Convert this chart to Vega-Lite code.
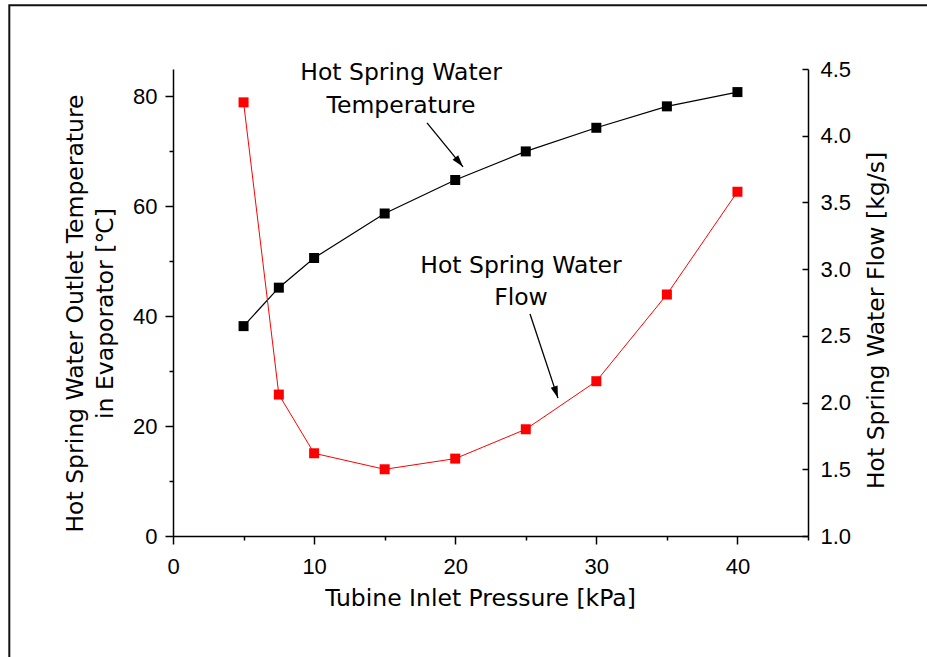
{
  "$schema": "https://vega.github.io/schema/vega-lite/v6.json",
  "width": 635,
  "height": 467,
  "autosize": {"type": "none"},
  "padding": {"left": 173, "top": 69, "right": 119, "bottom": 121},
  "background": "white",
  "config": {"view": {"stroke": null}, "font": "Liberation Sans"},
  "datasets": {
    "temp": [
      {"p": 5, "t": 38.2}, {"p": 7.5, "t": 45.2}, {"p": 10, "t": 50.6},
      {"p": 15, "t": 58.7}, {"p": 20, "t": 64.8}, {"p": 25, "t": 70.0},
      {"p": 30, "t": 74.3}, {"p": 35, "t": 78.2}, {"p": 40, "t": 80.8}
    ],
    "flow": [
      {"p": 5, "f": 4.25}, {"p": 7.5, "f": 2.06}, {"p": 10, "f": 1.62},
      {"p": 15, "f": 1.50}, {"p": 20, "f": 1.58}, {"p": 25, "f": 1.80},
      {"p": 30, "f": 2.16}, {"p": 35, "f": 2.81}, {"p": 40, "f": 3.58}
    ],
    "arrows": [
      {"target": "Temperature", "xs": 18.0, "ys": 75.2, "xe": 20.55, "ye": 67.2},
      {"target": "Flow", "xs": 25.3, "ys": 40.4, "xe": 27.28, "ye": 25.1}
    ],
    "labels": [
      {"text": "Hot Spring Water", "lx": 16.16, "ly": 84.3},
      {"text": "Temperature", "lx": 16.16, "ly": 78.3},
      {"text": "Hot Spring Water", "lx": 24.66, "ly": 49.1},
      {"text": "Flow", "lx": 24.66, "ly": 43.4}
    ]
  },
  "layer": [
    {
      "layer": [
        {
          "data": {"values": [{}]},
          "mark": {"type": "rect", "filled": false, "stroke": "#111111", "strokeWidth": 2, "fill": null},
          "encoding": {
            "x": {"datum": -11.6, "type": "quantitative", "scale": {"domain": [0, 45], "nice": false, "zero": false}},
            "x2": {"datum": 56},
            "y": {"datum": 96.6, "type": "quantitative", "scale": {"domain": [0, 85], "nice": false, "zero": false}},
            "y2": {"datum": -27}
          }
        },
        {
          "data": {"name": "temp"},
          "mark": {"type": "line", "color": "black", "strokeWidth": 1.2},
          "encoding": {
            "x": {
              "field": "p", "type": "quantitative",
              "scale": {"domain": [0, 45], "nice": false, "zero": false},
              "axis": {
                "values": [0, 5, 10, 15, 20, 25, 30, 35, 40, 45],
                "labelExpr": "datum.value % 10 === 0 ? datum.label : ''",
                "tickSize": {"condition": {"test": "datum.value % 10 === 0", "value": 8}, "value": 4},
                "grid": false,
                "domainColor": "black", "domainWidth": 1.5,
                "tickColor": "black", "tickWidth": 1.5,
                "labelFont": "Liberation Sans", "labelFontSize": 22, "labelColor": "black", "labelPadding": 12,
                "labelFlush": false, "labelOverlap": false,
                "title": "Tubine Inlet Pressure [kPa]",
                "titleFont": "DejaVu Sans", "titleFontSize": 23.5, "titleFontWeight": "normal", "titleColor": "black",
                "titleX": 307, "titleY": 62, "titleAlign": "center", "titleBaseline": "middle"
              }
            },
            "y": {
              "field": "t", "type": "quantitative",
              "scale": {"domain": [0, 85], "nice": false, "zero": false},
              "axis": {
                "orient": "left",
                "values": [0, 10, 20, 30, 40, 50, 60, 70, 80],
                "labelExpr": "datum.value % 20 === 0 ? datum.label : ''",
                "tickSize": {"condition": {"test": "datum.value % 20 === 0", "value": 8}, "value": 4},
                "grid": false,
                "domainColor": "black", "domainWidth": 1.5,
                "tickColor": "black", "tickWidth": 1.5,
                "labelFont": "Liberation Sans", "labelFontSize": 22, "labelColor": "black", "labelPadding": 8,
                "labelFlush": false, "labelOverlap": false,
                "title": ["Hot Spring Water Outlet Temperature", "in Evaporator [℃]"],
                "titleFont": "DejaVu Sans", "titleFontSize": 23.5, "titleFontWeight": "normal", "titleColor": "black",
                "titleAngle": -90, "titleX": -98, "titleY": 244, "titleAlign": "center", "titleBaseline": "middle",
                "titleLineHeight": 30
              }
            }
          }
        },
        {
          "data": {"name": "temp"},
          "mark": {"type": "point", "shape": "square", "filled": true, "color": "black", "size": 100, "opacity": 1, "strokeWidth": 0},
          "encoding": {
            "x": {"field": "p", "type": "quantitative"},
            "y": {"field": "t", "type": "quantitative"}
          }
        },
        {
          "data": {"name": "arrows"},
          "mark": {"type": "rule", "color": "black", "strokeWidth": 1.3},
          "encoding": {
            "x": {"field": "xs", "type": "quantitative"},
            "y": {"field": "ys", "type": "quantitative"},
            "x2": {"field": "xe"},
            "y2": {"field": "ye"}
          }
        },
        {
          "data": {"name": "arrows"},
          "transform": [{"filter": "datum.target === 'Temperature'"}],
          "mark": {"type": "point", "shape": "M0,0L0.3,1L-0.3,1Z", "filled": true, "color": "black", "size": 576, "opacity": 1, "strokeWidth": 0, "angle": 140.7},
          "encoding": {
            "x": {"field": "xe", "type": "quantitative"},
            "y": {"field": "ye", "type": "quantitative"}
          }
        },
        {
          "data": {"name": "arrows"},
          "transform": [{"filter": "datum.target === 'Flow'"}],
          "mark": {"type": "point", "shape": "M0,0L0.3,1L-0.3,1Z", "filled": true, "color": "black", "size": 576, "opacity": 1, "strokeWidth": 0, "angle": 161.6},
          "encoding": {
            "x": {"field": "xe", "type": "quantitative"},
            "y": {"field": "ye", "type": "quantitative"}
          }
        },
        {
          "data": {"name": "labels"},
          "mark": {"type": "text", "font": "DejaVu Sans", "fontSize": 23.5, "color": "black", "align": "center", "baseline": "middle"},
          "encoding": {
            "x": {"field": "lx", "type": "quantitative"},
            "y": {"field": "ly", "type": "quantitative"},
            "text": {"field": "text"}
          }
        }
      ]
    },
    {
      "layer": [
        {
          "data": {"name": "flow"},
          "mark": {"type": "line", "color": "#ff0000", "strokeWidth": 1},
          "encoding": {
            "x": {"field": "p", "type": "quantitative"},
            "y": {
              "field": "f", "type": "quantitative",
              "scale": {"domain": [1, 4.5], "nice": false, "zero": false},
              "axis": {
                "orient": "right",
                "values": [1, 1.25, 1.5, 1.75, 2, 2.25, 2.5, 2.75, 3, 3.25, 3.5, 3.75, 4, 4.25, 4.5],
                "format": ".1f",
                "labelExpr": "(datum.value * 2) % 1 === 0 ? datum.label : ''",
                "tickSize": {"condition": {"test": "(datum.value * 2) % 1 === 0", "value": -6}, "value": -3},
                "grid": false,
                "domainColor": "black", "domainWidth": 1.5,
                "tickColor": "black", "tickWidth": 1.5,
                "labelFont": "Liberation Sans", "labelFontSize": 22, "labelColor": "black", "labelPadding": 18,
                "labelFlush": false, "labelOverlap": false,
                "title": "Hot Spring Water Flow [kg/s]",
                "titleFont": "DejaVu Sans", "titleFontSize": 23.5, "titleFontWeight": "normal", "titleColor": "black",
                "titleAngle": -90, "titleX": 68, "titleY": 251, "titleAlign": "center", "titleBaseline": "middle"
              }
            }
          }
        },
        {
          "data": {"name": "flow"},
          "mark": {"type": "point", "shape": "square", "filled": true, "color": "#ff0000", "size": 100, "opacity": 1, "strokeWidth": 0},
          "encoding": {
            "x": {"field": "p", "type": "quantitative"},
            "y": {"field": "f", "type": "quantitative"}
          }
        }
      ]
    }
  ],
  "resolve": {"scale": {"y": "independent"}}
}
